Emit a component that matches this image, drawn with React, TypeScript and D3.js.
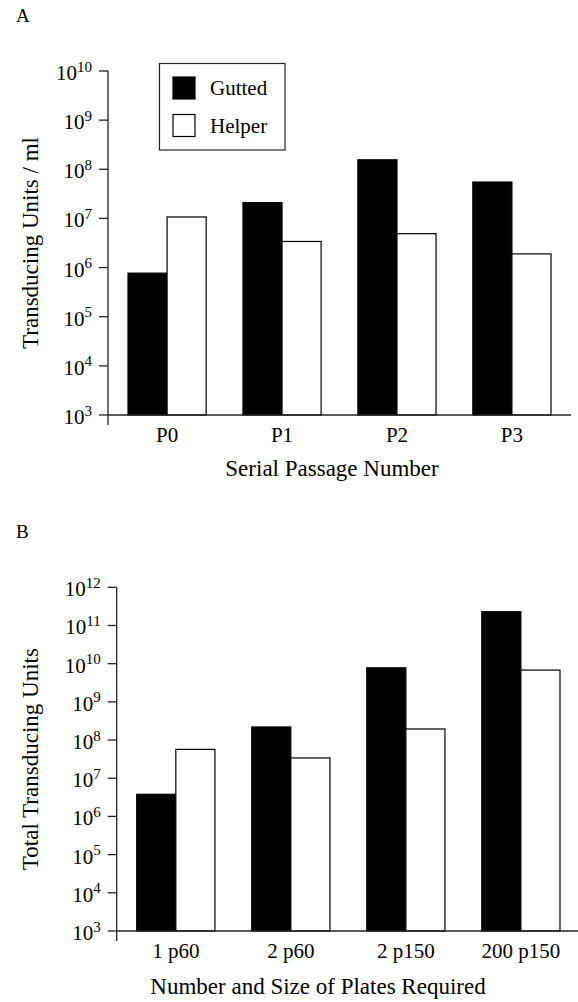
import * as d3 from "d3";
import React from "react";

// panel A: titre per ml across serial passages
const passages = ["P0", "P1", "P2", "P3"];
const guttedA = [7.7e5, 2.1e7, 1.56e8, 5.5e7];
const helperA = [1.07e7, 3.4e6, 4.9e6, 1.9e6];
const expA = [3, 4, 5, 6, 7, 8, 9, 10];

// panel B: total units vs plates needed
const plates = ["1 p60", "2 p60", "2 p150", "200 p150"];
const guttedB = [3.8e6, 2.2e8, 7.8e9, 2.3e11];
const helperB = [5.7e7, 3.4e7, 1.95e8, 6.8e9];
const expB = [3, 4, 5, 6, 7, 8, 9, 10, 11, 12];

const seriesNames = ["Gutted", "Helper"];

const FONT = "'Liberation Serif', 'Times New Roman', serif";
const INK = "#000";

type PanelProps = {
  letter: string;
  letterY: number;
  cats: string[];
  gutted: number[];
  helper: number[];
  exps: number[];
  axisX: number;
  rightX: number;
  top: number;
  bottom: number;
  yTitle: string;
  xTitle: string;
  xTitleX: number;
  catY: number;
  xTitleY: number;
  legend?: boolean;
};

function Panel(p: PanelProps) {
  const y = d3
    .scaleLog()
    .domain([Math.pow(10, p.exps[0]), Math.pow(10, p.exps[p.exps.length - 1])])
    .range([p.bottom, p.top]);

  const x = d3
    .scaleBand()
    .domain(p.cats)
    .range([p.axisX, p.rightX])
    .paddingInner(0.32)
    .paddingOuter(0.174);

  const sub = d3
    .scaleBand()
    .domain(seriesNames)
    .range([0, x.bandwidth()]);

  const rows = p.cats.map((c, i) => ({ cat: c, vals: [p.gutted[i], p.helper[i]] }));

  return (
    <g>
      <text x={16} y={p.letterY} fontSize={19} fill={INK}>
        {p.letter}
      </text>

      {rows.map((r) =>
        r.vals.map((v, j) => (
          <rect
            key={r.cat + j}
            x={(x(r.cat) ?? 0) + (sub(seriesNames[j]) ?? 0)}
            y={y(v)}
            width={sub.bandwidth()}
            height={p.bottom - y(v)}
            fill={j === 0 ? "#000" : "#fff"}
            stroke="#000"
            strokeWidth={1.2}
          />
        ))
      )}

      {/* axes */}
      <line x1={p.axisX} y1={p.top} x2={p.axisX} y2={p.bottom + 10} stroke="#222" strokeWidth={1.3} />
      <line x1={p.axisX} y1={p.bottom} x2={p.rightX} y2={p.bottom} stroke="#222" strokeWidth={1.3} />

      {p.exps.map((e) => {
        const yy = y(Math.pow(10, e));
        return (
          <g key={e}>
            <line x1={p.axisX - 9} y1={yy} x2={p.axisX} y2={yy} stroke="#222" strokeWidth={1.3} />
            <text
              x={p.axisX - 16}
              y={yy + 9}
              fontSize={21}
              textAnchor="end"
              fill={INK}
            >
              10
              <tspan dy={-8.5} fontSize={15}>
                {e}
              </tspan>
            </text>
          </g>
        );
      })}

      {p.cats.map((c) => (
        <text
          key={c}
          x={(x(c) ?? 0) + x.bandwidth() / 2}
          y={p.catY}
          fontSize={21}
          textAnchor="middle"
          fill={INK}
        >
          {c}
        </text>
      ))}

      <text
        transform={`translate(38, ${(p.top + p.bottom) / 2}) rotate(-90)`}
        fontSize={23}
        textAnchor="middle"
        fill={INK}
      >
        {p.yTitle}
      </text>

      <text x={p.xTitleX} y={p.xTitleY} fontSize={23} textAnchor="middle" fill={INK}>
        {p.xTitle}
      </text>

      {p.legend && (
        <g>
          <rect x={159.5} y={63.5} width={125.5} height={86.5} fill="#fff" stroke="#222" strokeWidth={1.2} />
          {seriesNames.map((s, i) => (
            <g key={s} transform={`translate(173, ${77 + i * 37.5})`}>
              <rect width={22} height={22} fill={i === 0 ? "#000" : "#fff"} stroke="#000" strokeWidth={1.2} />
              <text x={37} y={18} fontSize={21} fill={INK}>
                {s}
              </text>
            </g>
          ))}
        </g>
      )}
    </g>
  );
}

export default function App() {
  return (
    <svg
      width={578}
      height={1002}
      style={{ position: "absolute", left: 0, top: 0, fontFamily: FONT, background: "#fff" }}
    >
      <Panel
        letter="A"
        letterY={22}
        cats={passages}
        gutted={guttedA}
        helper={helperA}
        exps={expA}
        axisX={108}
        rightX={571}
        top={71}
        bottom={415}
        yTitle="Transducing Units / ml"
        xTitle="Serial Passage Number"
        xTitleX={332}
        catY={442}
        xTitleY={476}
        legend
      />
      <Panel
        letter="B"
        letterY={538}
        cats={plates}
        gutted={guttedB}
        helper={helperB}
        exps={expB}
        axisX={116.7}
        rightX={580}
        top={587.3}
        bottom={931}
        yTitle="Total Transducing Units"
        xTitle="Number and Size of Plates Required"
        xTitleX={318}
        catY={958}
        xTitleY={994}
      />
    </svg>
  );
}
